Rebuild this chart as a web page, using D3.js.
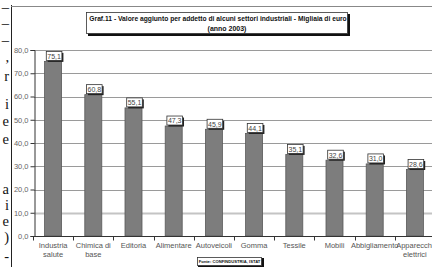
<!DOCTYPE html>
<html><head><meta charset="utf-8">
<script src="https://cdn.jsdelivr.net/npm/d3@7"></script>
<style>
html,body{margin:0;padding:0;background:#fff;}
svg{display:block;}
</style></head>
<body>
<svg id="c" width="432" height="267"></svg>
<script>
const categories = ["Industria salute","Chimica di base","Editoria","Alimentare","Autoveicoli","Gomma","Tessile","Mobili","Abbigliamento","Apparecchi elettrici"];
const categoryLines = [["Industria","salute"],["Chimica di","base"],["Editoria"],["Alimentare"],["Autoveicoli"],["Gomma"],["Tessile"],["Mobili"],["Abbigliamento"],["Apparecchi","elettrici"]];
const values = [75.1, 60.8, 55.1, 47.3, 45.9, 44.1, 35.1, 32.6, 31.0, 28.6];
const yTicks = [0,10,20,30,40,50,60,70,80];
const titleLines = ["Graf.11 - Valore aggiunto per addetto di alcuni settori industriali - Migliaia di euro","(anno 2003)"];
const sourceText = "Fonte: CONFINDUSTRIA, ISTAT";
const sideChars = ["\u2013","\u2013","\u2013",",","r","i","e","e","a","i","e",")","-"];
const sideY = [7,23,40,57,76,104,121,139,189,205,221,237,256];

const svg = d3.select("#c");
const fmt = v => d3.format(".1f")(v).replace(".", ",");

// left strip text fragments
svg.append("g").selectAll("text").data(sideChars).join("text")
  .attr("x", 9).attr("y", (d,i)=>sideY[i]).attr("dy","0.35em")
  .attr("text-anchor","end")
  .attr("font-family","Liberation Serif, DejaVu Serif, serif")
  .attr("font-size",14.5).attr("fill","#111").text(d=>d);
svg.append("line").attr("x1",11.5).attr("x2",11.5).attr("y1",5).attr("y2",267).attr("stroke","#222");
svg.append("line").attr("x1",11).attr("x2",432).attr("y1",6.5).attr("y2",6.5).attr("stroke","#888");

const x = d3.scaleBand().domain(categories).range([33, 435]).paddingInner(0.577).paddingOuter(0.2885);
const y = d3.scaleLinear().domain([0,80]).range([236, 50]);

// gridlines
svg.append("g").selectAll("line").data(yTicks.filter(t=>t>0)).join("line")
  .attr("x1",34).attr("x2",432).attr("y1",d=>Math.round(y(d))+0.5).attr("y2",d=>Math.round(y(d))+0.5)
  .attr("stroke",d=>d===10?"#c4c4c4":"#9a9a9a").attr("stroke-width",d=>d===10?2:1);

// bars
svg.append("g").selectAll("rect").data(values).join("rect")
  .attr("x",(d,i)=>x(categories[i])).attr("width",x.bandwidth())
  .attr("y",d=>y(d)).attr("height",d=>y(0)-y(d))
  .attr("fill","#7d7d7d").attr("stroke","#5a5a5a").attr("stroke-width",0.8);

// y axis
const ya = svg.append("g").attr("transform","translate(34.5,0)")
  .call(d3.axisLeft(y).tickValues(yTicks).tickFormat(fmt).tickSize(4).tickPadding(2));
ya.select(".domain").attr("stroke","#333");
ya.selectAll(".tick line").attr("stroke","#333");
ya.selectAll("text").attr("font-family","Liberation Sans, Arial, sans-serif").attr("font-size",7.5).attr("fill","#666");

// x axis
const xa = svg.append("g").attr("transform","translate(0,236.5)");
xa.append("line").attr("x1",34).attr("x2",432).attr("stroke","#333");
const edges = categories.map(c=>x(c)-(x.step()-x.bandwidth())/2);
xa.selectAll(".xt").data(edges).join("line").attr("class","xt")
  .attr("x1",d=>Math.round(d)+0.5).attr("x2",d=>Math.round(d)+0.5).attr("y1",0).attr("y2",4).attr("stroke","#333");
const xl = svg.append("g").selectAll("text").data(categoryLines).join("text")
  .attr("x",(d,i)=>x(categories[i])+x.bandwidth()/2).attr("y",248)
  .attr("text-anchor","middle").attr("font-family","Liberation Sans, Arial, sans-serif")
  .attr("font-size",7.5).attr("fill","#555");
xl.each(function(d){
  d3.select(this).selectAll("tspan").data(d).join("tspan")
    .attr("x",d3.select(this).attr("x")).attr("dy",(t,j)=>j?9:0).text(t=>t);
});

// data labels
const lg = svg.append("g");
values.forEach((v,i)=>{
  const cx = x(categories[i]) + x.bandwidth()/2 + 1;
  const g = lg.append("g");
  const t = g.append("text").attr("x",cx).attr("y",y(v)-5).attr("dy","0.35em")
    .attr("text-anchor","middle").attr("font-family","Liberation Sans, Arial, sans-serif")
    .attr("font-size",7).attr("fill","#444").text(fmt(v));
  const w = t.node().getComputedTextLength();
  const bx = cx - w/2 - 1, by = y(v) - 10, bw = w + 2, bh = 9;
  g.insert("rect","text").attr("x",bx+1.5).attr("y",by+1.5).attr("width",bw).attr("height",bh).attr("fill","#222");
  g.insert("rect","text").attr("x",bx).attr("y",by).attr("width",bw).attr("height",bh).attr("fill","#fff").attr("stroke","#333").attr("stroke-width",0.8);
});

// title box
const tb = svg.append("g");
tb.append("rect").attr("x",88).attr("y",14).attr("width",262).attr("height",22).attr("fill","#111");
tb.append("rect").attr("x",86.5).attr("y",12.5).attr("width",261).attr("height",21).attr("fill","#fff").attr("stroke","#333").attr("stroke-width",0.8);
const t1 = tb.append("text").attr("x",218).attr("y",19).attr("dy","0.35em").attr("text-anchor","middle")
  .attr("font-family","Liberation Sans, Arial, sans-serif").attr("font-weight","bold").attr("font-size",7).attr("fill","#111").text(titleLines[0]);
const w1 = t1.node().getComputedTextLength();
if (w1 > 258) t1.attr("font-size", 7*258/w1);
tb.append("text").attr("x",227).attr("y",29).attr("dy","0.35em").attr("text-anchor","middle")
  .attr("font-family","Liberation Sans, Arial, sans-serif").attr("font-weight","bold").attr("font-size",7).attr("fill","#111").text(titleLines[1]);

// source box
const sb = svg.append("g");
sb.append("rect").attr("x",198).attr("y",258).attr("width",66).attr("height",9).attr("fill","#111");
sb.append("rect").attr("x",197.5).attr("y",257.5).attr("width",64).attr("height",8).attr("fill","#fff").attr("stroke","#333").attr("stroke-width",0.8);
const st = sb.append("text").attr("x",229.5).attr("y",261.5).attr("dy","0.35em").attr("text-anchor","middle")
  .attr("font-family","Liberation Sans, Arial, sans-serif").attr("font-weight","bold").attr("font-size",5.5).attr("fill","#111").text(sourceText);
const ws = st.node().getComputedTextLength();
if (ws > 62) st.attr("font-size", 5.5*62/ws);
</script>
</body></html>
